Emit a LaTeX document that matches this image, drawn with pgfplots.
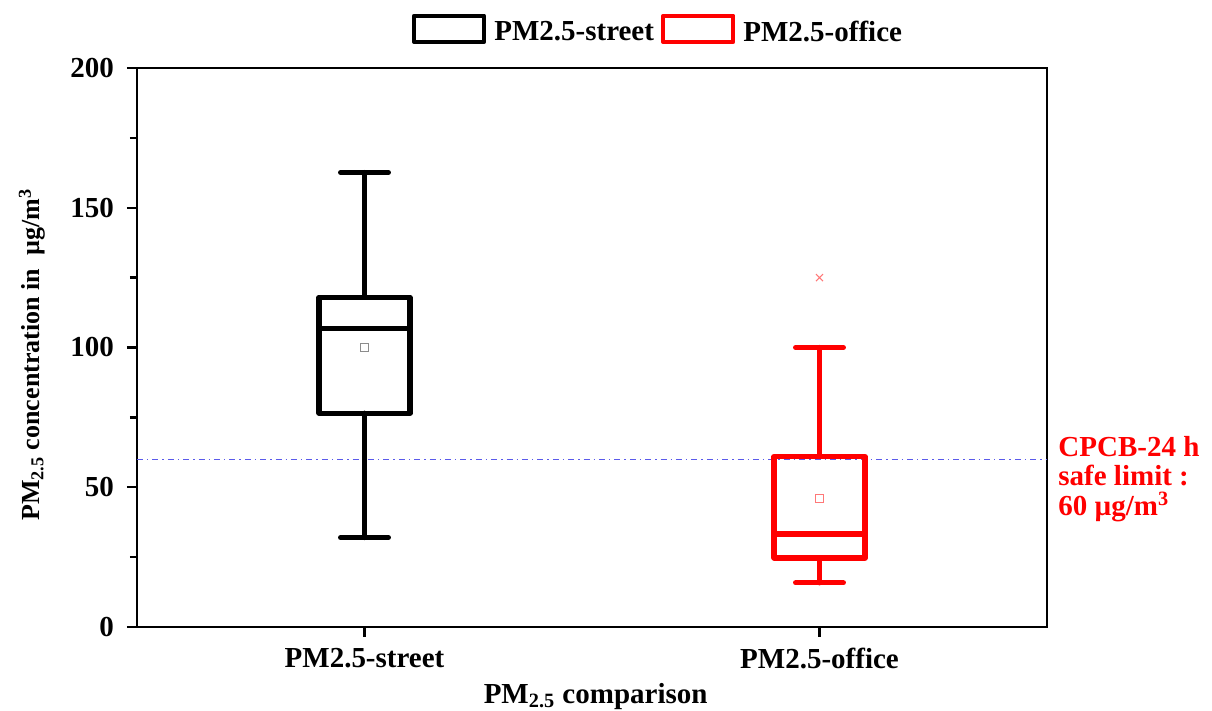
\documentclass[border=0pt]{standalone}
\usepackage{fontspec}
\setmainfont{Liberation Serif}
\usepackage{pgfplots}
\pgfplotsset{compat=1.18}

\definecolor{limitblue}{RGB}{90,90,235}
\definecolor{meanred}{RGB}{255,120,120}
\definecolor{meangray}{RGB}{140,140,140}

\newcommand{\lblfont}{\fontsize{14.5}{17}\selectfont\bfseries}

\begin{document}
\begin{tikzpicture}
\useasboundingbox (-68.5pt,-42pt) rectangle (537.5pt,313.5pt);
\begin{axis}[
  at={(0pt,0pt)}, anchor=south west,
  scale only axis, width=455pt, height=279.5pt,
  xmin=0, xmax=4, ymin=0, ymax=200,
  clip=false,
  xtick={1,3}, xticklabels={PM2.5-street,PM2.5-office},
  ytick={0,50,100,150,200}, minor ytick={25,75,125,175},
  tick align=outside, tick pos=left,
  major tick length=5pt, minor tick length=3.5pt,
  axis line style={line width=1.2pt},
  every tick/.style={black, line width=1.2pt},
  tick label style={font=\lblfont},
  xticklabel style={yshift=-2pt},
  yticklabel style={xshift=-3pt},
  /pgf/number format/assume math mode=true,
  every axis y label/.style={at={(axis description cs:-0.1154,0.487)}, rotate=90, anchor=center,
    font=\fontsize{13}{15}\selectfont\bfseries},
  every axis x label/.style={at={(axis description cs:0.504,-0.124)}, anchor=center, font=\lblfont},
  ylabel={PM\textsubscript{2.5} concentration in \ µg/m\textsuperscript{3}},
  xlabel={PM\textsubscript{2.5} comparison},
  legend style={at={(axis description cs:0.5736,1.066)}, anchor=center, draw=none, fill=none,
    font=\lblfont, legend columns=2,
    /tikz/every odd column/.append style={column sep=2pt},
    /tikz/every even column/.append style={column sep=1.5pt}},
  legend cell align=left,
  boxline/.style={forget plot, line width=2.6pt, line cap=round, line join=round, mark=none},
]
% legend entries
\addlegendimage{black, line width=2.2pt, legend image code/.code={\draw[line join=round] (0pt,-4.5pt) rectangle (35pt,8.5pt);}}
\addlegendentry{PM2.5-street}
\addlegendimage{red, line width=2.2pt, legend image code/.code={\draw[line join=round] (0pt,-4.5pt) rectangle (35pt,8.5pt);}}
\addlegendentry{PM2.5-office}

% CPCB 24 h limit
\addplot[forget plot, limitblue, line width=0.7pt, dash dot] coordinates {(0,60) (4,60)};

% street: whiskers 32 / 162.6, quartiles 76.5 / 118, median 106.8
\addplot[boxline, black] coordinates {(0.8,76.5) (1.2,76.5) (1.2,118) (0.8,118) (0.8,76.5)};
\addplot[boxline, black] coordinates {(0.8,106.8) (1.2,106.8)};
\addplot[boxline, black] coordinates {(1,118) (1,162.6)};
\addplot[boxline, black] coordinates {(1,76.5) (1,32)};
\addplot[boxline, black] coordinates {(0.895,162.6) (1.105,162.6)};
\addplot[boxline, black] coordinates {(0.895,32) (1.105,32)};

% office: whiskers 15.8 / 100, quartiles 24.7 / 61, median 33.3
\addplot[boxline, red] coordinates {(2.8,24.7) (3.2,24.7) (3.2,61) (2.8,61) (2.8,24.7)};
\addplot[boxline, red] coordinates {(2.8,33.3) (3.2,33.3)};
\addplot[boxline, red] coordinates {(3,61) (3,100)};
\addplot[boxline, red] coordinates {(3,24.7) (3,15.8)};
\addplot[boxline, red] coordinates {(2.895,100) (3.105,100)};
\addplot[boxline, red] coordinates {(2.895,15.8) (3.105,15.8)};

% means
\addplot[forget plot, only marks, mark=square, mark size=2pt, meangray, line width=0.6pt] coordinates {(1,100)};
\addplot[forget plot, only marks, mark=square, mark size=2pt, meanred, line width=0.6pt] coordinates {(3,46)};
% outlier
\addplot[forget plot, only marks, mark=x, mark size=2.5pt, meanred, line width=0.6pt] coordinates {(3,125)};

\node[anchor=north west, align=left, text=red, inner sep=0pt,
  font=\fontsize{14.5}{14.8}\selectfont\bfseries] at (rel axis cs:1.0121,0.342)
  {CPCB-24 h\\safe limit :\\60 µg/m\textsuperscript{3}};
\end{axis}
\end{tikzpicture}
\end{document}
